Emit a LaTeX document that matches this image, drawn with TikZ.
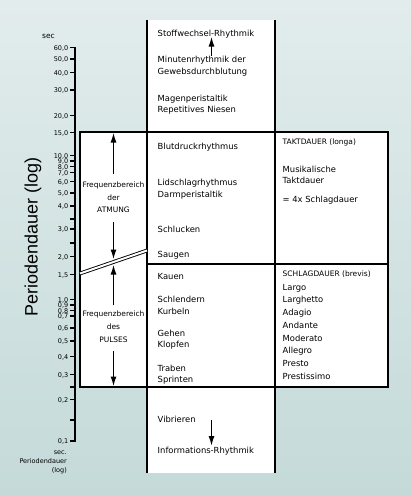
\documentclass[tikz,border=0pt]{standalone}
\usepackage{fontspec}
\setmainfont{DejaVu Sans}
\newfontfamily\helvfont{Liberation Sans}
\usetikzlibrary{arrows.meta}
\definecolor{bgtop}{RGB}{226,236,236}
\definecolor{bgbot}{RGB}{196,218,217}

\begin{document}
\begin{tikzpicture}[
    x=1pt, y=-1pt,
    txt/.style={anchor=mid west, inner sep=0pt, font=\fontsize{8.4}{10}\selectfont},
    small/.style={inner sep=0pt, font=\fontsize{7.5}{9}\selectfont},
    ticklab/.style={anchor=mid east, inner sep=0pt, font=\fontsize{6.5}{8}\selectfont},
    tick/.style={line width=1.3pt},
    frame/.style={line width=1.2pt, color=black},
    arr/.style={-{Latex[length=10pt,width=6pt]}, line width=1.5pt}
]
\useasboundingbox (0,0) rectangle (411,496);
\shade[top color=bgtop, bottom color=bgbot] (0,0) rectangle (411,496);

% columns
\fill[white] (147,20) rectangle (275,473);
\fill[white] (80,132) rectangle (388,387);
\draw[frame] (147,20) -- (147,473);
\draw[frame] (275,20) -- (275,473);
\draw[frame] (80,132) rectangle (388,387);
\draw[frame] (147,264) -- (388,264);

\coordinate (brkL) at (80,273.5);
\coordinate (brkR) at (147,250.5);
\draw[double=white, double distance=2pt, line width=0.9pt] (brkL) -- (brkR);

% axis
\coordinate (axtop) at (75,47);
\coordinate (axbot) at (75,442);
\draw[line width=2.5pt] (axtop) -- (axbot);
\foreach \yy/\lab [count=\i] in {47.7/{60,0}, 58.9/{50,0}, 72.4/{40,0}, 90/{30,0},
    115.3/{20,0}, 132.8/{15,0}, 155.5/{10,0}, 161/{9,0}, 166.5/{8,0}, 172.5/{7,0},
    181.5/{6,0}, 193/{5,0}, 206/{4,0}, 229/{3,0}, 256.5/{2,0}, 274.5/{1,5},
    299.5/{1,0}, 305/{0,9}, 310.5/{0,8}, 316/{0,7}, 328/{0,6}, 341/{0,5},
    356.5/{0,4}, 374.5/{0,3}, 399.5/{0,2}, 441/{0,1}}{
  \draw[tick] (70,\yy) -- (75,\yy);
  \node[ticklab] (tl\i) at (68.5,\yy) {\lab};
}
\foreach \yy in {219,243,387,420}
  \draw[tick] (70,\yy) -- (75,\yy);

\node[small, anchor=mid west] (secT) at (42,36) {sec};
\node[ticklab] (secB) at (67,451.5) {sec.};
\node[ticklab] (perB) at (67,461) {Periodendauer};
\node[ticklab] (logB) at (67,470) {(log)};
\node[font=\helvfont\fontsize{18}{20}\selectfont, rotate=90] (ylab) at (33,237) {Periodendauer (log)};

% left box
\node[small, anchor=mid] (frA) at (113.5,185) {Frequenzbereich};
\node[small, anchor=mid] (derA) at (113.5,197.5) {der};
\node[small, anchor=mid] (atm) at (113.5,210) {ATMUNG};
\node[small, anchor=mid] (frP) at (113.5,313.3) {Frequenzbereich};
\node[small, anchor=mid] (desP) at (113.5,326.7) {des};
\node[small, anchor=mid] (puls) at (113.5,340) {PULSES};

\coordinate (atmTop) at (113.5,132.5);
\coordinate (atmBot) at (113.5,259.5);
\coordinate (pulTop) at (113.5,264.5);
\coordinate (pulBot) at (113.5,386.5);
\draw[arr, shorten <=7.4pt] (frA.north) -- (atmTop);
\draw[arr, shorten <=9pt] (atm.south) -- (atmBot);
\draw[arr, shorten <=4.7pt] (frP.north) -- (pulTop);
\draw[arr, shorten <=8pt] (puls.south) -- (pulBot);

% middle column
\node[txt] (stoff) at (157.5,33.5) {Stoffwechsel-Rhythmik};
\node[txt] (minu) at (157.5,60) {Minutenrhythmik der};
\node[txt] (gewe) at (157.5,71.5) {Gewebsdurchblutung};
\node[txt] (magen) at (157.5,98.3) {Magenperistaltik};
\node[txt] (nies) at (157.5,109.5) {Repetitives Niesen};
\node[txt] (blut) at (157.5,146.7) {Blutdruckrhythmus};
\node[txt] (lid) at (157.5,182.7) {Lidschlagrhythmus};
\node[txt] (darm) at (157.5,195) {Darmperistaltik};
\node[txt] (schluck) at (157.5,230) {Schlucken};
\node[txt] (saug) at (157.5,255) {Saugen};
\node[txt] (kau) at (157.5,276.7) {Kauen};
\node[txt] (schlend) at (157.5,300) {Schlendern};
\node[txt] (kurb) at (157.5,311.7) {Kurbeln};
\node[txt] (geh) at (157.5,333.3) {Gehen};
\node[txt] (klopf) at (157.5,345) {Klopfen};
\node[txt] (trab) at (157.5,368.3) {Traben};
\node[txt] (sprint) at (157.5,379.3) {Sprinten};
\node[txt] (vib) at (157.5,420) {Vibrieren};
\node[txt] (info) at (157.5,450.7) {Informations-Rhythmik};

\coordinate (stUp) at (211.5,36.5);
\coordinate (infDn) at (211.5,446);
\draw[arr] (stUp |- minu.north) -- (stUp);
\draw[arr] (infDn |- vib) -- (infDn);

% right column
\node[small, anchor=mid west] (takt) at (282.5,141.7) {TAKTDAUER (longa)};
\node[txt] (musik) at (282.5,170) {Musikalische};
\node[txt] (taktd) at (282.5,180.7) {Taktdauer};
\node[txt] (vier) at (282.5,199.3) {= 4x Schlagdauer};
\node[small, anchor=mid west] (schlag) at (282.5,274) {SCHLAGDAUER (brevis)};
\foreach \t [count=\k from 0] in {Largo, Larghetto, Adagio, Andante, Moderato, Allegro, Presto, Prestissimo}
  \node[txt] (tmp\k) at (282.5,{287.3+12.77*\k}) {\t};

\end{tikzpicture}
\end{document}
